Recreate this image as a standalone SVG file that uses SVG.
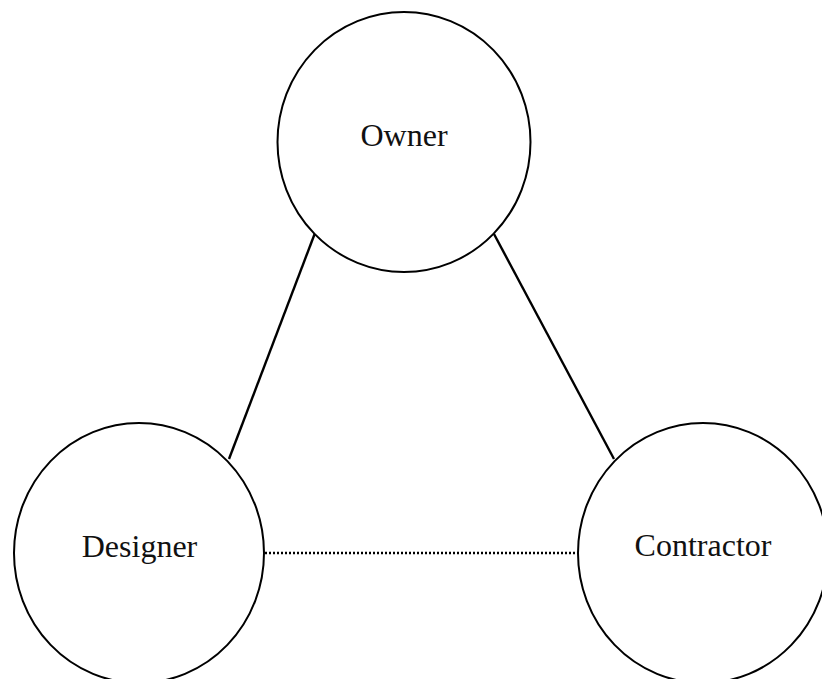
<svg xmlns="http://www.w3.org/2000/svg" width="822" height="679" viewBox="0 0 822 679">
<style>
.node{fill:#fff;stroke:#000;stroke-width:2}
.lbl{font-family:"Liberation Serif","DejaVu Serif",serif;font-size:32px;fill:#111;text-anchor:middle}
.edge{stroke:#000;stroke-width:2.4;fill:none}
.dot{stroke:#000;stroke-width:2.4;stroke-dasharray:2 2;fill:none}
</style>
<rect width="822" height="679" fill="#fff"/>
<g id="connectors">
<line class="edge" x1="315" y1="233" x2="229" y2="459"/>
<line class="edge" x1="494" y1="234" x2="614" y2="459"/>
<line class="dot" x1="265" y1="553" x2="578" y2="553"/>
</g>
<g id="owner">
<ellipse class="node" cx="404" cy="142" rx="126.5" ry="130"/>
<text class="lbl" x="404" y="146">Owner</text>
</g>
<g id="designer">
<ellipse class="node" cx="139" cy="553" rx="125" ry="130"/>
<text class="lbl" x="139.5" y="557">Designer</text>
</g>
<g id="contractor">
<ellipse class="node" cx="703" cy="553" rx="125" ry="130"/>
<text class="lbl" x="703" y="556">Contractor</text>
</g>
</svg>
